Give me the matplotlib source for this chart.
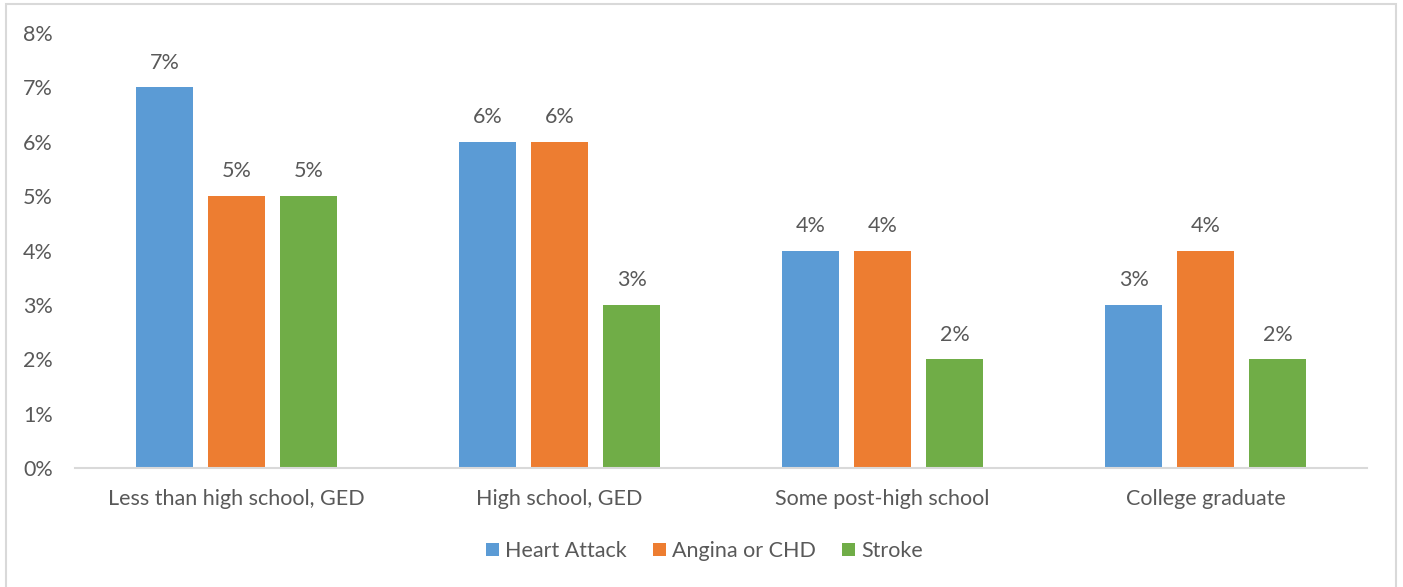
import matplotlib.pyplot as plt
import matplotlib.patches as mpatches
import numpy as np

plt.rcParams['font.family'] = ['Lato', 'DejaVu Sans']

categories = ['Less than high school, GED', 'High school, GED',
              'Some post-high school', 'College graduate']
heart_attack = [7, 6, 4, 3]
angina = [5, 6, 4, 4]
stroke = [5, 3, 2, 2]

series = [('Heart Attack', heart_attack, '#5b9bd5'),
          ('Angina or CHD', angina, '#ed7d31'),
          ('Stroke', stroke, '#70ad47')]

txt = '#595959'
fs = 15.5
fig = plt.figure(figsize=(14.03, 5.87), dpi=100)
ax = fig.add_axes([0.0535, 0.2027, 0.9209, 0.7411])

# outer chart frame, bottom edge runs off the page
fig.patches.append(mpatches.Rectangle((6/1403, -0.05), 1390/1403, 1.05 - 4/587,
                                      transform=fig.transFigure, fill=False,
                                      edgecolor='#d9d9d9', lw=1.5))

x = np.arange(len(categories))
w = 0.176
step = 0.223
for i, (name, vals, col) in enumerate(series):
    pos = x + (i - 1) * step
    bars = ax.bar(pos, vals, w, color=col, label=name)
    for b, v in zip(bars, vals):
        ax.text(b.get_x() + b.get_width()/2, v + 0.27, f'{v}%',
                ha='center', va='bottom', fontsize=fs, color=txt)

ax.set_xlim(-0.5, 3.5)
ax.set_ylim(0, 8)
ax.set_yticks(range(0, 9))
ax.set_yticklabels([f'{t}%' for t in range(0, 9)])
ax.set_xticks(x)
ax.set_xticklabels(categories)
ax.tick_params(axis='both', length=0, labelsize=fs, colors=txt)
ax.tick_params(axis='y', pad=16)
ax.tick_params(axis='x', pad=15)
for s in ['top', 'right', 'left']:
    ax.spines[s].set_visible(False)
ax.spines['bottom'].set_color('#d9d9d9')
ax.spines['bottom'].set_linewidth(1.5)

leg = fig.legend(loc='center', bbox_to_anchor=(0.502, 1 - 551/587), ncol=3,
                 frameon=False, fontsize=fs, handlelength=0.6, handleheight=0.6,
                 handletextpad=0.3, columnspacing=1.2)
for t in leg.get_texts():
    t.set_color(txt)

fig.savefig('out.png', dpi=100)
